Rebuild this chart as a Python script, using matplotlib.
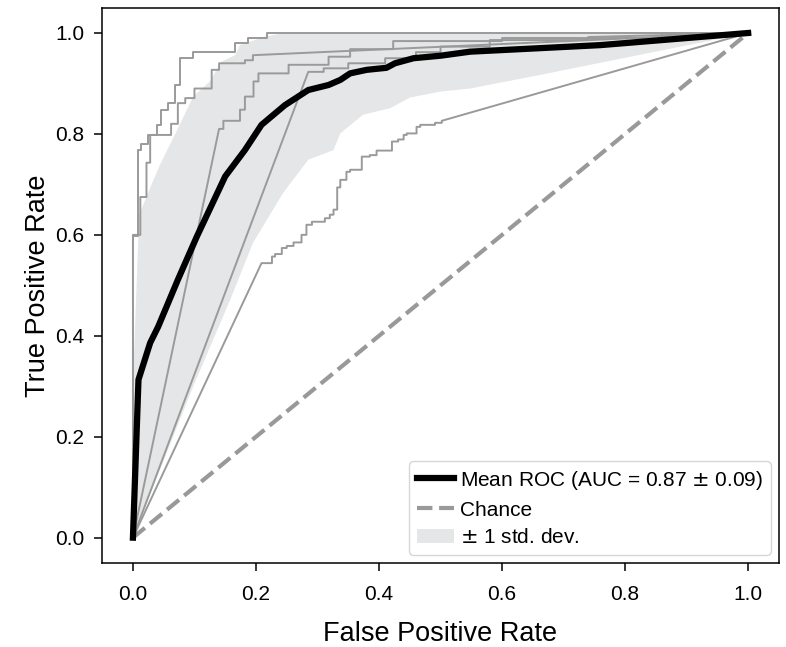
import numpy as np
import matplotlib
matplotlib.use("Agg")
import matplotlib.pyplot as plt

plt.rcParams['font.family'] = ['Liberation Sans', 'DejaVu Sans']

# per-fold ROC vertices
fold_a_fpr = [0, 0, 0.008, 0.008, 0.013, 0.013, 0.024, 0.024, 0.039, 0.039, 0.045, 0.045,
              0.057, 0.057, 0.068, 0.068, 0.076, 0.076, 0.098, 0.098, 0.166, 0.166,
              0.187, 0.187, 0.218, 0.218, 1.0]
fold_a_tpr = [0, 0.597, 0.597, 0.768, 0.768, 0.781, 0.781, 0.798, 0.798, 0.818, 0.818, 0.848,
              0.848, 0.861, 0.861, 0.897, 0.897, 0.95, 0.95, 0.962, 0.962, 0.98,
              0.98, 0.99, 0.99, 1.0, 1.0]

fold_b_fpr = [0, 0, 0.012, 0.012, 0.022, 0.022, 0.028, 0.028, 0.062, 0.062, 0.073, 0.073,
              0.085, 0.085, 0.1, 0.1, 0.128, 0.128, 0.14, 0.14, 0.182, 0.182, 0.195, 0.195, 1.0]
fold_b_tpr = [0, 0.6, 0.6, 0.675, 0.675, 0.743, 0.743, 0.798, 0.798, 0.82, 0.82, 0.861,
              0.861, 0.871, 0.871, 0.89, 0.89, 0.927, 0.927, 0.94, 0.94, 0.946, 0.946, 0.956, 1.0]

fold_c_fpr = [0, 0.14, 0.147, 0.147, 0.174, 0.174, 0.182, 0.182, 0.196, 0.196, 0.204, 0.204,
              0.253, 0.253, 0.318, 0.318, 0.353, 0.353, 0.423, 0.423, 0.6, 0.6, 0.86, 0.86, 1.0]
fold_c_tpr = [0, 0.81, 0.81, 0.826, 0.826, 0.848, 0.848, 0.874, 0.874, 0.904, 0.904, 0.92,
              0.92, 0.937, 0.937, 0.953, 0.953, 0.968, 0.968, 0.984, 0.984, 0.99, 0.99, 1.0, 1.0]

fold_d_fpr = [0, 0.285, 0.31, 0.31, 0.35, 0.35, 0.41, 0.41, 0.46, 0.46, 0.5, 0.5,
              0.58, 0.58, 0.74, 0.74, 1.0]
fold_d_tpr = [0, 0.923, 0.923, 0.93, 0.93, 0.94, 0.94, 0.95, 0.95, 0.962, 0.962, 0.973,
              0.973, 0.986, 0.986, 0.992, 1.0]

fold_e_fpr = [0, 0.209, 0.226, 0.226, 0.231, 0.231, 0.242, 0.242, 0.25, 0.25, 0.261, 0.261,
              0.274, 0.274, 0.282, 0.282, 0.291, 0.291, 0.312, 0.312, 0.32, 0.32, 0.326, 0.326,
              0.332, 0.332, 0.337, 0.337, 0.347, 0.347, 0.353, 0.353, 0.372, 0.372, 0.385, 0.385,
              0.396, 0.396, 0.421, 0.421, 0.431, 0.431, 0.44, 0.44, 0.445, 0.445, 0.461, 0.461,
              0.467, 0.467, 0.491, 0.491, 0.502, 0.502, 1.0]
fold_e_tpr = [0, 0.544, 0.544, 0.557, 0.557, 0.562, 0.562, 0.574, 0.574, 0.578, 0.578, 0.585,
              0.585, 0.6, 0.6, 0.62, 0.62, 0.626, 0.626, 0.633, 0.633, 0.64, 0.64, 0.65,
              0.65, 0.694, 0.694, 0.709, 0.709, 0.725, 0.725, 0.729, 0.729, 0.755, 0.755, 0.758,
              0.758, 0.767, 0.767, 0.785, 0.785, 0.789, 0.789, 0.798, 0.798, 0.801, 0.801, 0.814,
              0.814, 0.818, 0.818, 0.822, 0.822, 0.826, 1.0]

folds = [(fold_a_fpr, fold_a_tpr), (fold_b_fpr, fold_b_tpr), (fold_c_fpr, fold_c_tpr),
         (fold_d_fpr, fold_d_tpr), (fold_e_fpr, fold_e_tpr)]

# mean ROC
mean_fpr = [0, 0.009, 0.028, 0.041, 0.073, 0.104, 0.15, 0.182, 0.209, 0.247, 0.285, 0.318,
            0.337, 0.353, 0.38, 0.412, 0.426, 0.456, 0.5, 0.548, 0.76, 1.0]
mean_tpr = [0, 0.313, 0.386, 0.418, 0.511, 0.597, 0.716, 0.768, 0.818, 0.857, 0.887, 0.897,
            0.907, 0.92, 0.927, 0.931, 0.94, 0.95, 0.955, 0.963, 0.976, 1.0]
mean_auc = 0.87
std_auc = 0.09

# +/- 1 std band edges
upper_fpr = [0, 0.0101, 0.0202, 0.0303, 0.044, 0.068, 0.098, 0.125, 0.144, 0.166, 0.174,
             0.215, 0.247, 1.0]
upper_tpr = [0.3, 0.64, 0.67, 0.70, 0.739, 0.798, 0.874, 0.904, 0.943, 0.956, 0.976,
             0.993, 1.0, 1.0]
lower_fpr = [0, 0.098, 0.158, 0.195, 0.244, 0.285, 0.326, 0.337, 0.374, 0.418, 0.45, 0.5,
             0.548, 0.662, 1.0]
lower_tpr = [0, 0.30, 0.471, 0.584, 0.683, 0.749, 0.768, 0.801, 0.838, 0.851, 0.872, 0.884,
             0.89, 0.917, 1.0]

fig = plt.figure(figsize=(7.86, 6.47), dpi=100)
ax = fig.add_axes([0.13, 0.13, 0.861, 0.858])

band_x = upper_fpr + lower_fpr[::-1]
band_y = upper_tpr + lower_tpr[::-1]
ax.fill(band_x, band_y, color='#e5e6e7', lw=0, zorder=1, label=r'$\pm$ 1 std. dev.')

for fpr, tpr in folds:
    ax.plot(fpr, tpr, color='#9a9a9a', lw=1.4, zorder=2)

ax.plot([0, 1], [0, 1], linestyle='--', lw=3, color='#999999', zorder=3, label='Chance')
ax.plot(mean_fpr, mean_tpr, color='black', lw=4.5, zorder=4,
        label=r'Mean ROC (AUC = %0.2f $\pm$ %0.2f)' % (mean_auc, std_auc))

ax.set_xlim(-0.05, 1.05)
ax.set_ylim(-0.05, 1.05)
ax.set_xticks([0, 0.2, 0.4, 0.6, 0.8, 1.0])
ax.set_yticks([0, 0.2, 0.4, 0.6, 0.8, 1.0])
ax.tick_params(labelsize=15, length=6, width=1.1)
ax.tick_params(axis='x', pad=10)
ax.tick_params(axis='y', pad=7)
for s in ax.spines.values():
    s.set_linewidth(1.1)
ax.set_xlabel('False Positive Rate', fontsize=19.5, labelpad=12)
ax.set_ylabel('True Positive Rate', fontsize=19.5, labelpad=3)

handles, labels = ax.get_legend_handles_labels()
order = [2, 1, 0]
leg = ax.legend([handles[i] for i in order], [labels[i] for i in order],
                loc='lower right', fontsize=15, frameon=True, fancybox=True,
                handlelength=1.8, handletextpad=0.3, borderpad=0.35,
                labelspacing=0.42, borderaxespad=0.4)
leg.get_frame().set_edgecolor('#cccccc')

fig.savefig('out.png', dpi=100)
